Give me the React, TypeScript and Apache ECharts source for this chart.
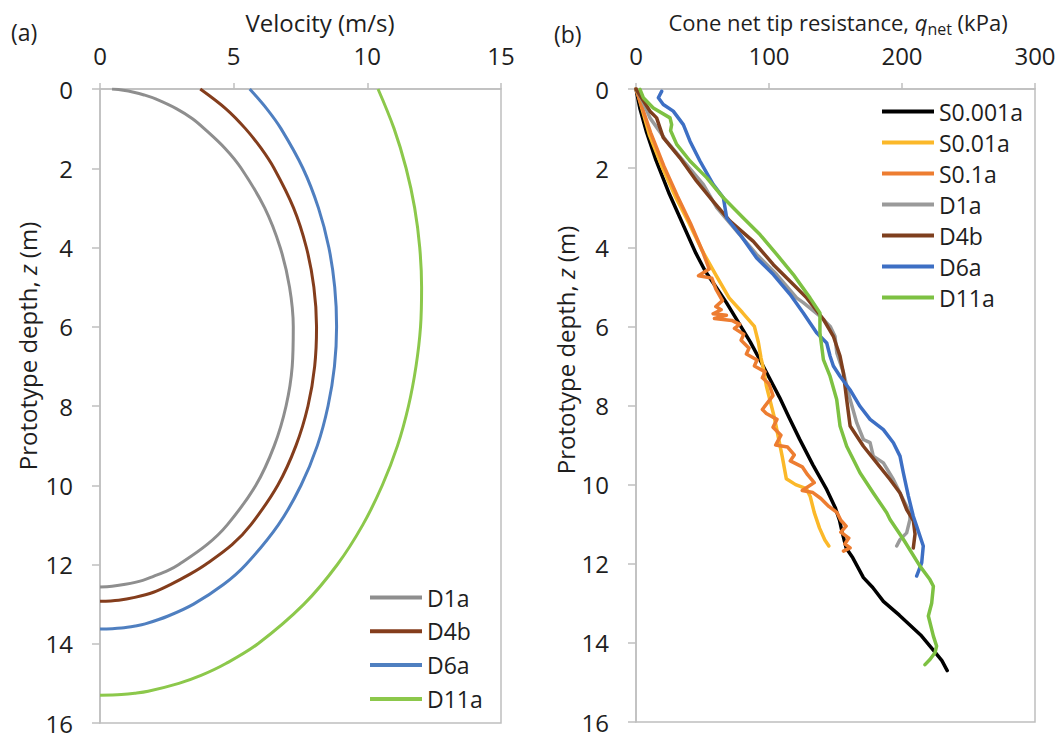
import React, { useEffect, useRef } from "react";
import * as echarts from "echarts";

// ---------- Panel (a): velocity profiles [velocity m/s, depth m] ----------
const velD1a = [
  [0.45, 0], [0.87, 0.03], [1.26, 0.08], [1.65, 0.15], [2.08, 0.25], [2.87, 0.5], [3.46, 0.75],
  [3.9, 1], [4.68, 1.5], [5.28, 2], [6.16, 3], [6.74, 4], [7.09, 5], [7.23, 6], [7.19, 7],
  [6.96, 8], [6.52, 9], [5.83, 10], [4.76, 11], [4.0, 11.5], [2.95, 12], [2.55, 12.15],
  [2.0, 12.3], [1.6, 12.4], [0.95, 12.5], [0.45, 12.55], [0, 12.57],
];
const velD4b = [
  [3.75, 0], [4.71, 0.5], [5.44, 1], [6.03, 1.5], [6.51, 2], [7.24, 3], [7.72, 4], [8.0, 5],
  [8.1, 6], [8.03, 7], [7.78, 8], [7.33, 9], [6.65, 10], [5.64, 11], [4.94, 11.5], [3.95, 12],
  [3.35, 12.25], [2.65, 12.5], [2.0, 12.7], [1.3, 12.83], [0.7, 12.9], [0, 12.93],
];
const velD6a = [
  [5.6, 0], [6.24, 0.5], [6.77, 1], [7.59, 2], [8.17, 3], [8.56, 4], [8.78, 5], [8.85, 6],
  [8.77, 7], [8.53, 8], [8.13, 9], [7.52, 10], [6.67, 11], [5.46, 12], [4.63, 12.5], [3.5, 13],
  [2.55, 13.3], [1.69, 13.5], [1.33, 13.55], [0.8, 13.6], [0, 13.63],
];
const velD11a = [
  [10.4, 0], [11.0, 1], [11.45, 2], [11.77, 3], [11.96, 4], [12.03, 5], [11.99, 6], [11.82, 7],
  [11.54, 8], [11.13, 9], [10.56, 10], [9.83, 11], [8.88, 12], [7.63, 13], [5.91, 14], [4.71, 14.5],
  [3.78, 14.8], [2.95, 15], [1.8, 15.2], [1.3, 15.25], [0.8, 15.28], [0, 15.3],
];

// ---------- Panel (b): cone net tip resistance [q_net kPa, depth m] ----------
const qS0001a = [
  [0, 0], [3, 0.5], [8, 1.1], [15, 1.8], [25, 2.65], [35, 3.4], [45, 4.15], [52, 4.6], [60, 5.0],
  [68, 5.4], [77, 5.9], [86, 6.4], [94, 6.9], [101, 7.35], [108, 7.8], [115, 8.3], [123, 8.85],
  [133, 9.5], [143, 10.1], [150, 10.6], [153, 10.9], [155, 11.2], [158, 11.6], [163, 11.85],
  [171, 12.35], [178, 12.6], [186, 12.95], [198, 13.3], [214, 13.8], [224, 14.2], [230, 14.45],
  [234, 14.7],
];
const qS001a = [
  [0, 0], [2, 0.2], [10, 1.15], [20, 2.0], [30, 2.75], [40, 3.4], [50, 4.1], [60, 4.7], [70, 5.28],
  [80, 5.65], [89, 6.0], [92, 6.4], [94, 6.8], [96, 7.1], [98, 7.5], [101, 7.9], [104, 8.3],
  [107, 8.8], [110, 9.3], [113, 9.85], [120, 10.0], [128, 10.1], [131, 10.3], [134, 10.7],
  [138, 11.1], [142, 11.4], [145, 11.55],
];
const qS01a = [
  [0, 0], [3, 0.3], [11, 1.1], [21, 1.95], [31, 2.7], [41, 3.4], [50, 4.1], [55, 4.55], [47, 4.72],
  [57, 4.78], [60, 5.05], [65, 5.35], [60, 5.5], [64, 5.58], [58, 5.68], [68, 5.72], [59, 5.8],
  [72, 5.85], [78, 5.95], [74, 6.05], [81, 6.2], [79, 6.35], [85, 6.55], [83, 6.7], [91, 6.85],
  [89, 7.0], [97, 7.15], [95, 7.3], [100, 7.45], [103, 7.75], [95, 8.1], [98, 8.2], [106, 8.35],
  [103, 8.55], [109, 8.75], [105, 9.0], [114, 9.05], [119, 9.25], [116, 9.4], [125, 9.55],
  [129, 9.75], [134, 9.95], [125, 10.15], [133, 10.2], [139, 10.35], [145, 10.55], [151, 10.7],
  [154, 10.9], [158, 11.05], [154, 11.2], [160, 11.35], [157, 11.5], [161, 11.6], [156, 11.68],
];
const qD1a = [
  [0, 0], [5, 0.3], [10.5, 0.73], [23, 1.32], [35.6, 1.82], [50.6, 2.41], [60.7, 3.0], [75.7, 3.59],
  [90.7, 4.18], [105.8, 4.69], [120.8, 5.28], [125.8, 5.4], [138.3, 5.74], [146, 6.0], [149.6, 6.25],
  [151, 6.67], [156, 7.17], [161, 7.85], [166, 8.44], [171, 8.86], [176, 8.94], [178.4, 9.28],
  [186, 9.45], [193.5, 9.87], [201, 10.38], [206, 10.71], [206, 10.88], [203.5, 11.22],
  [198.5, 11.39], [196, 11.55],
];
const qD4b = [
  [0, 0], [10.5, 0.56], [15.5, 0.73], [20.5, 1.23], [33, 1.74], [45.6, 2.33], [58, 2.84],
  [70.7, 3.34], [88.2, 3.85], [103.3, 4.44], [118.3, 4.94], [128.3, 5.28], [140.9, 5.82],
  [148.4, 6.25], [153.4, 6.75], [155.9, 7.17], [158.4, 7.85], [161, 8.52], [171, 9.03], [181, 9.45],
  [191, 9.87], [198.5, 10.21], [203.5, 10.63], [208.5, 10.91], [209.8, 11.25], [208.5, 11.6],
];
const qD6a = [
  [19.3, 0.06], [16.8, 0.22], [20.5, 0.39], [28, 0.56], [35.6, 0.9], [40.6, 1.32], [48.1, 1.82],
  [58, 2.41], [65.7, 2.75], [68.2, 3.26], [78.2, 3.68], [90.7, 4.27], [103.3, 4.69], [115.8, 5.19],
  [125.8, 5.66], [135.8, 6.16], [143.4, 6.42], [145.9, 6.75], [148.4, 7.0], [153.4, 7.26],
  [160.9, 7.6], [168.4, 8.02], [176, 8.35], [186, 8.61], [193.5, 8.94], [198.5, 9.28], [201, 9.7],
  [204.8, 10.29], [208.5, 10.8], [211, 11.05], [216, 11.55], [214.8, 11.98], [211, 12.31],
];
const qD11a = [
  [3, 0.01], [5.5, 0.22], [13, 0.48], [25.6, 0.73], [26.8, 0.9], [26, 1.05], [30.6, 1.4],
  [40.6, 1.82], [53.1, 2.24], [65.7, 2.75], [80.7, 3.26], [93.2, 3.68], [105.8, 4.18], [118.3, 4.69],
  [130.8, 5.28], [138.3, 5.66], [138.3, 6.16], [140.9, 6.84], [145.9, 7.26], [150.9, 7.85],
  [153.4, 8.52], [158.4, 9.03], [168.4, 9.7], [178.4, 10.21], [188.5, 10.71], [191, 10.88],
  [201, 11.38], [213.5, 12.06], [221, 12.4], [223.6, 12.57], [222.3, 13.0], [219.8, 13.32],
  [223.6, 13.83], [226, 14.08], [224.8, 14.25], [221, 14.42], [217.3, 14.55],
];

const leftNames = ["D1a", "D4b", "D6a", "D11a"];
const rightNames = ["S0.001a", "S0.01a", "S0.1a", "D1a", "D4b", "D6a", "D11a"];
const velocityTicks = { min: 0, max: 15, interval: 5 };
const qTicks = { min: 0, max: 300, interval: 100 };
const depthTicks = { min: 0, max: 16, interval: 2 };

const FONT = '"Open Sans", "Noto Sans", sans-serif';
const AXIS_COLOR = "#bfbfbf";
const TEXT_COLOR = "#1e1e1e";

const leftColors = ["#8e8e8e", "#843d1c", "#4f7fc0", "#8cc84b"];
const rightColors = ["#000000", "#fbb829", "#ed7d31", "#9a9a9a", "#7e3f1e", "#3d6fc4", "#7dc142"];

function xAxisCfg(gridIndex: number, t: { min: number; max: number; interval: number }) {
  return {
    gridIndex,
    type: "value",
    position: "top",
    min: t.min,
    max: t.max,
    interval: t.interval,
    axisLine: { show: true, onZero: false, lineStyle: { color: AXIS_COLOR, width: 1.5 } },
    axisTick: { show: true, length: 6, lineStyle: { color: AXIS_COLOR, width: 1.5 } },
    axisLabel: { fontSize: 24, color: TEXT_COLOR, fontFamily: FONT, margin: 22 },
    splitLine: { show: false },
  };
}
function yAxisCfg(gridIndex: number) {
  return {
    gridIndex,
    type: "value",
    inverse: true,
    min: depthTicks.min,
    max: depthTicks.max,
    interval: depthTicks.interval,
    axisLine: { show: true, onZero: false, lineStyle: { color: AXIS_COLOR, width: 1.5 } },
    axisTick: { show: true, length: 8, lineStyle: { color: AXIS_COLOR, width: 1.5 } },
    axisLabel: { fontSize: 24, color: TEXT_COLOR, fontFamily: FONT, margin: 27 },
    splitLine: { show: false },
  };
}

function depthTitle(x: number, y: number) {
  return {
    type: "text",
    x,
    y,
    rotation: Math.PI / 2,
    style: {
      text: "{a|Prototype depth, }{i|z}{a| (m)}",
      fontSize: 24,
      fontFamily: FONT,
      fill: TEXT_COLOR,
      align: "center",
      verticalAlign: "middle",
      rich: {
        a: { fontSize: 24, fontFamily: FONT, fill: TEXT_COLOR },
        i: { fontSize: 24, fontFamily: FONT, fontStyle: "italic", fill: TEXT_COLOR },
      },
    },
  };
}

function buildOption() {
  const leftData = [velD1a, velD4b, velD6a, velD11a];
  const rightData = [qS0001a, qS001a, qS01a, qD1a, qD4b, qD6a, qD11a];
  const series: any[] = [];
  leftData.forEach((d, i) => {
    series.push({
      name: leftNames[i] + "_L",
      type: "line",
      xAxisIndex: 0,
      yAxisIndex: 0,
      data: d,
      smooth: 0.35,
      showSymbol: false,
      symbol: "none",
      lineStyle: { color: leftColors[i], width: 3 },
      itemStyle: { color: leftColors[i] },
    });
  });
  rightData.forEach((d, i) => {
    series.push({
      name: rightNames[i] + "_R",
      type: "line",
      xAxisIndex: 1,
      yAxisIndex: 1,
      data: d,
      showSymbol: false,
      symbol: "none",
      lineStyle: { color: rightColors[i], width: 3.5, join: "round", cap: "round" },
      itemStyle: { color: rightColors[i] },
    });
  });

  const legendText = { fontSize: 23, color: TEXT_COLOR, fontFamily: FONT, lineHeight: 22 };
  const titleStyle = { fontSize: 23, fontFamily: FONT, fill: TEXT_COLOR };

  return {
    animation: false,
    backgroundColor: "#ffffff",
    grid: [
      { left: 100, top: 89, width: 401, height: 634, show: true, borderColor: AXIS_COLOR, borderWidth: 1.5, backgroundColor: "transparent" },
      { left: 636, top: 89, width: 399, height: 633, show: true, borderColor: AXIS_COLOR, borderWidth: 1.5, backgroundColor: "transparent" },
    ],
    xAxis: [xAxisCfg(0, velocityTicks), xAxisCfg(1, qTicks)],
    yAxis: [yAxisCfg(0), yAxisCfg(1)],
    legend: [
      {
        data: leftNames.map((n) => n + "_L"),
        formatter: (n: string) => n.replace("_L", ""),
        orient: "vertical",
        left: 365,
        top: 581,
        itemWidth: 52,
        itemHeight: 4,
        icon: "rect",
        itemGap: 10.8,
        selectedMode: false,
        textStyle: legendText,
      },
      {
        data: rightNames.map((n) => n + "_R"),
        formatter: (n: string) => n.replace("_R", ""),
        orient: "vertical",
        left: 877,
        top: 95,
        itemWidth: 52,
        itemHeight: 4,
        icon: "rect",
        itemGap: 8,
        selectedMode: false,
        textStyle: legendText,
      },
    ],
    graphic: [
      { type: "text", x: 11, y: 32, style: { text: "(a)", ...titleStyle, align: "left", verticalAlign: "middle" } },
      { type: "text", x: 554, y: 34, style: { text: "(b)", ...titleStyle, align: "left", verticalAlign: "middle" } },
      { type: "text", x: 320, y: 22, style: { text: "Velocity (m/s)", ...titleStyle, fontSize: 24, align: "center", verticalAlign: "middle" } },
      {
        type: "text",
        x: 838,
        y: 22,
        style: {
          text: "{a|Cone net tip resistance, }{i|q}{s|net}{a| (kPa)}",
          ...titleStyle,
          align: "center",
          verticalAlign: "middle",
          rich: {
            a: { fontSize: 22, fontFamily: FONT, lineHeight: 30, fill: TEXT_COLOR },
            i: { fontSize: 22, fontFamily: FONT, fontStyle: "italic", lineHeight: 30, fill: TEXT_COLOR },
            s: { fontSize: 16, fontFamily: FONT, verticalAlign: "bottom", fill: TEXT_COLOR },
          },
        },
      },
      depthTitle(27, 346),
      depthTitle(565, 350),
    ],
    series,
  };
}

export default function App() {
  const ref = useRef<HTMLDivElement>(null);
  useEffect(() => {
    if (!ref.current) return;
    const chart = echarts.init(ref.current, undefined, { renderer: "svg" });
    chart.setOption(buildOption() as any);
    return () => chart.dispose();
  }, []);
  return (
    <div
      ref={ref}
      style={{ position: "fixed", left: 0, top: 0, width: 1062, height: 740, background: "#ffffff" }}
    />
  );
}
